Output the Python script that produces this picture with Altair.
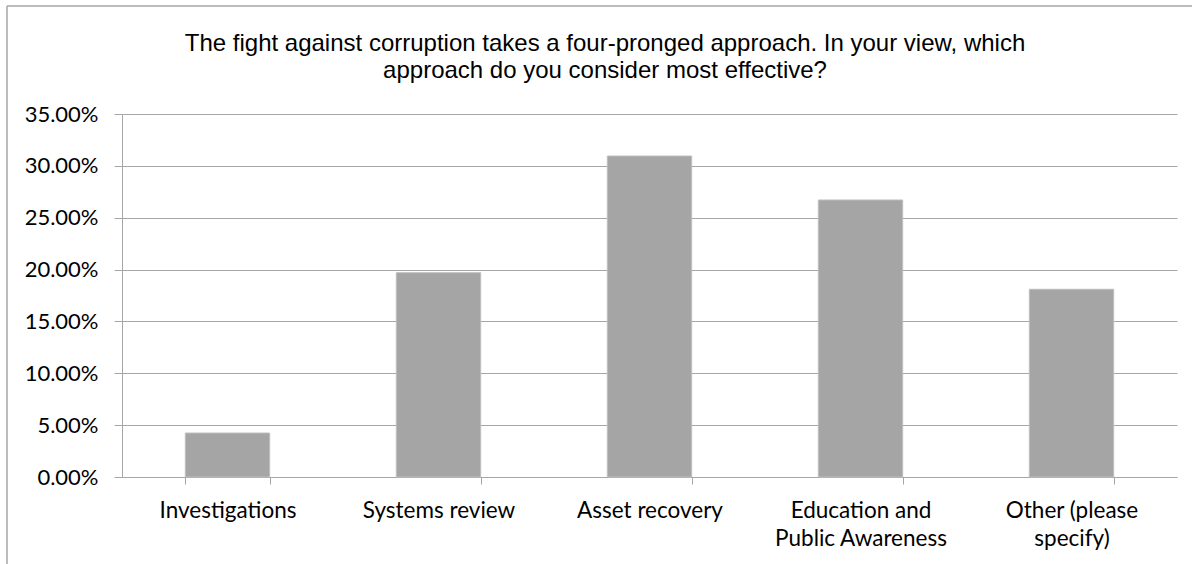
import altair as alt
import pandas as pd

categories = ["Investigations", "Systems review", "Asset recovery",
              "Education and Public Awareness", "Other (please specify)"]
values = [0.0424, 0.1970, 0.3095, 0.2671, 0.1810]
title_lines = ["The fight against corruption takes a four-pronged approach. In your view, which",
               "approach do you consider most effective?"]

df = pd.DataFrame({"category": categories, "value": values})

W, H = 1055, 363
PAD_L, PAD_T = 122, 114

label_expr = "datum.value == 'Education and Public Awareness' ? ['Education and', 'Public Awareness'] : datum.value == 'Other (please specify)' ? ['Other (please', 'specify)'] : datum.value"

x = alt.X("category:N", sort=categories, title=None,
          scale=alt.Scale(paddingInner=0.6, paddingOuter=0.3),
          axis=alt.Axis(labelAngle=0, labelFont="Lato", labelFontSize=22.5,
                        labelColor="#000000", labelPadding=15,
                        labelExpr=label_expr, labelLineHeight=28,
                        tickBand="extent", tickSize=7, tickColor="#a6a6a6",
                        domainColor="#a6a6a6", grid=False, labelBaseline="top"))
y = alt.Y("value:Q", title=None,
          scale=alt.Scale(domain=[0, 0.35], nice=False),
          axis=alt.Axis(values=[0, 0.05, 0.10, 0.15, 0.20, 0.25, 0.30, 0.35],
                        format=".2%", labelFont="Lato", labelFontSize=22,
                        labelColor="#000000", labelPadding=16, tickSize=8,
                        tickColor="#a6a6a6", domainColor="#a6a6a6",
                        gridColor="#a6a6a6", gridWidth=1))

bars = alt.Chart(df).mark_bar(color="#a5a5a5", stroke="#bfbfbf", strokeWidth=1).encode(x=x, y=y)

title = alt.Chart(pd.DataFrame({"t": [0]})).mark_text(
    font="Liberation Sans", fontSize=24, color="#000000", align="center",
    baseline="middle", lineHeight=27
).encode(x=alt.value(483), y=alt.value(-70), text=alt.value(title_lines))

border_left = alt.Chart(pd.DataFrame({"t": [0]})).mark_rule(color="#a6a6a6", strokeWidth=1.5).encode(
    x=alt.value(-115), y=alt.value(-108), y2=alt.value(460))
border_top = alt.Chart(pd.DataFrame({"t": [0]})).mark_rule(color="#a6a6a6", strokeWidth=1.5).encode(
    x=alt.value(-115), x2=alt.value(1080), y=alt.value(-108))

chart = alt.layer(bars, title, border_left, border_top).properties(
    width=W, height=H,
    autosize=alt.AutoSizeParams(type="none"),
    padding={"left": PAD_L, "top": PAD_T, "right": 1192 - PAD_L - W, "bottom": 564 - PAD_T - H},
    background="#ffffff"
).configure_view(stroke=None)

chart.save("out.html", embed_options={"renderer": "svg", "actions": False})
